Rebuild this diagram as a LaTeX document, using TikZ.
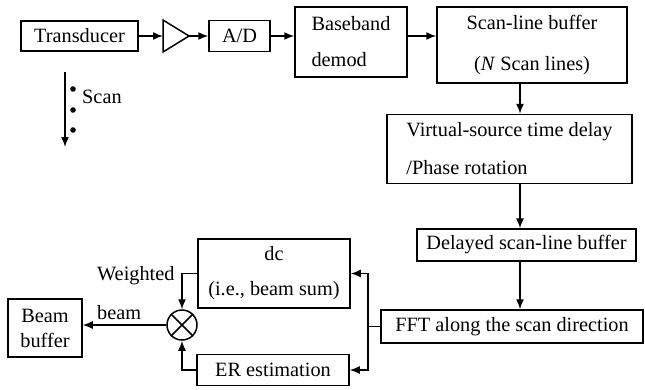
\documentclass[tikz,border=0pt]{standalone}
\usepackage{fontspec}
\setmainfont{Liberation Serif}
\usetikzlibrary{arrows.meta}
\begin{document}
\begin{tikzpicture}[x=1pt,y=-1pt,
    every node/.style={font=\fontsize{20.3}{25}\selectfont, inner sep=0pt},
    block/.style={draw, line width=1.5pt},
    link/.style={line width=1.5pt, -{Latex[length=10pt,width=8pt]}}]
  \useasboundingbox (0,0) rectangle (645,389);
  \draw
    (79.5,36) node[block, minimum width=117pt, minimum height=30pt] (trans) {Transducer}
    (239.5,36) node[block, minimum width=61pt, minimum height=31pt] (ad) {A/D}
    (351,42) node[block, minimum width=112pt, minimum height=70pt, align=left] (base) {Baseband\\[11pt]demod}
    (532,45) node[block, minimum width=190pt, minimum height=76pt, align=center] (scanbuf) {Scan-line buffer\\[16pt](\textit{N} Scan lines)}
    (509.5,149) node[block, minimum width=245pt, minimum height=69pt, align=left] (virt) {Virtual-source time delay\\[13pt]/Phase rotation}
    (526.5,245) node[block, minimum width=219pt, minimum height=32pt] (delayed) {Delayed scan-line buffer}
    (512,326.5) node[block, minimum width=262pt, minimum height=33pt] (fft) {FFT along the scan direction}
    (274,273.5) node[block, minimum width=152pt, minimum height=69pt, align=center] (dc) {dc\\[10pt](i.e., beam sum)}
    (273,370) node[block, minimum width=152pt, minimum height=31pt] (er) {ER estimation}
    (45,328) node[block, minimum width=74pt, minimum height=58pt, align=center] (beambuf) {Beam\\buffer}
    (182,325) node[block, circle, minimum size=30pt] (mult) {}
    (97,276) node[anchor=west] (weighted) {Weighted}
    (97,313) node[anchor=west] (beam) {beam}
    (82,97) node[anchor=west] (scan) {Scan};
  % amplifier
  \coordinate (ampin) at (163,36);
  \coordinate (ampout) at (189,36);
  \draw[line width=1.5pt, line join=miter] (163,20) -- (ampout) -- (163,52) -- cycle;
  \draw[line width=1.5pt] (mult.north west) -- (mult.south east) (mult.north east) -- (mult.south west);
  \coordinate (col) at (520,0);
  \coordinate (split) at (368,326.5);
  \coordinate (scantop) at (65,72);
  \coordinate (scanbot) at (65,147);
  \foreach \y in {89,110,130}
    \fill (73,\y) circle (2.8pt);
  \begin{scope}[link]
    \draw (trans) to (ampin);
    \draw (ampout) to (ad);
    \draw (ad) to (ad -| base.west);
    \draw ([yshift=6pt]base.east) to ([yshift=6pt]base.east -| scanbuf.west);
    \draw (scanbuf.south -| col) to (virt.north -| col);
    \draw (virt.south -| col) to (delayed.north -| col);
    \draw (delayed.south -| col) to (fft.north -| col);
    \draw[-] (fft.west) to (split);
    \draw (split) |- (dc.east);
    \draw (split) |- (er.east);
    \draw (dc.west) -| (mult.north);
    \draw (er.west) -| (mult.south);
    \draw (mult.west) to (mult.west -| beambuf.east);
    \draw (scantop) to (scanbot);
  \end{scope}
\end{tikzpicture}
\end{document}
